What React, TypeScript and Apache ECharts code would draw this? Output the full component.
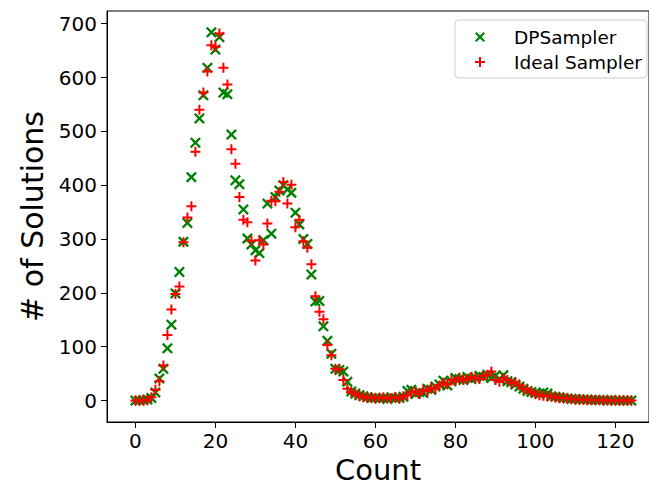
import React, { useEffect, useRef } from "react";
import * as echarts from "echarts";

const counts: number[] = Array.from({ length: 125 }, (_, i) => i);

const dpSampler: number[] = [
  0, 0, 1, 2, 5, 15, 41, 59, 97, 141,
  199, 239, 295, 330, 415, 479, 524, 567, 618, 684,
  652, 675, 572, 569, 494, 409, 402, 355, 301, 290,
  279, 274, 298, 366, 310, 378, 390, 400, 392, 386,
  349, 327, 300, 291, 234, 184, 185, 138, 111, 87,
  59, 57, 54, 35, 17, 13, 10, 8, 6, 5,
  5, 4, 5, 3, 6, 4, 5, 7, 18, 20,
  12, 16, 14, 22, 20, 26, 30, 37, 28, 36,
  42, 40, 38, 44, 40, 42, 46, 44, 48, 42,
  46, 40, 47, 36, 34, 30, 26, 22, 18, 16,
  14, 12, 15, 13, 8, 7, 6, 5, 4, 3,
  3, 2, 2, 2, 1, 1, 1, 1, 0, 1,
  0, 0, 0, 0, 0,
];

const idealSampler: number[] = [
  0, 0, 0, 1, 6, 20, 36, 65, 122, 169,
  198, 212, 294, 340, 361, 462, 540, 572, 611, 660,
  657, 682, 618, 587, 467, 440, 378, 336, 331, 297,
  260, 298, 290, 329, 371, 370, 388, 406, 366, 401,
  322, 336, 296, 284, 253, 194, 165, 151, 103, 84,
  59, 58, 38, 22, 16, 12, 9, 7, 5, 6,
  4, 5, 6, 4, 5, 6, 4, 8, 10, 15,
  17, 12, 20, 18, 24, 22, 28, 33, 30, 38,
  36, 42, 38, 40, 44, 42, 40, 46, 48, 54,
  38, 35, 42, 38, 32, 34, 28, 22, 20, 16,
  12, 10, 9, 8, 8, 6, 5, 5, 4, 3,
  2, 2, 2, 1, 1, 1, 1, 0, 0, 0,
  0, 0, 0, 0, 0,
];

const xTicks: number[] = [0, 20, 40, 60, 80, 100, 120];
const yTicks: number[] = [0, 100, 200, 300, 400, 500, 600, 700];

const seriesNames = ["DPSampler", "Ideal Sampler"];

const X_PATH =
  "path://M0,1.5L1.5,0L5,3.5L8.5,0L10,1.5L6.5,5L10,8.5L8.5,10L5,6.5L1.5,10L0,8.5L3.5,5Z";
const PLUS_PATH =
  "path://M4,0L6,0L6,4L10,4L10,6L6,6L6,10L4,10L4,6L0,6L0,4L4,4Z";

const FONT = "DejaVu Sans";
const W = 649;
const H = 487;

export default function App() {
  const ref = useRef<HTMLDivElement>(null);

  useEffect(() => {
    if (!ref.current) return;
    const chart = echarts.init(ref.current, undefined, {
      renderer: "svg",
      width: W,
      height: H,
    });
    const toPairs = (vals: number[]) => counts.map((c, i) => [c, vals[i]]);
    const xMin = -7.1;
    const xMax = xMin + (W - 107) / 4;
    chart.setOption({
      animation: false,
      backgroundColor: "#ffffff",
      grid: {
        left: 107,
        top: 11,
        right: 0,
        bottom: 65,
        outerBoundsMode: "none",
        containLabel: false,
        show: true,
        borderColor: "#000000",
        borderWidth: 1,
        backgroundColor: "transparent",
      },
      legend: {
        orient: "vertical",
        left: 455,
        top: 20,
        padding: [7, 5, 6, 20],
        itemWidth: 10,
        itemHeight: 10,
        itemGap: 5,
        borderColor: "#cccccc",
        borderWidth: 1,
        borderRadius: 4,
        backgroundColor: "rgba(255,255,255,0.8)",
        textStyle: {
          fontFamily: FONT,
          fontSize: 18.5,
          color: "#000000",
          lineHeight: 20,
          padding: [0, 0, 0, 24],
        },
        data: [
          { name: seriesNames[0], icon: X_PATH, itemStyle: { color: "#008000", opacity: 1 } },
          { name: seriesNames[1], icon: PLUS_PATH, itemStyle: { color: "#ff0000", opacity: 1 } },
        ],
      },
      xAxis: {
        type: "value",
        min: xMin,
        max: xMax,
        name: "Count",
        nameLocation: "middle",
        nameGap: 37,
        nameTextStyle: { fontFamily: FONT, fontSize: 29, lineHeight: 22, color: "#000000" },
        axisLine: { show: true, onZero: false, lineStyle: { color: "#000000", width: 1 } },
        axisTick: {
          show: true,
          length: 6,
          inside: false,
          customValues: xTicks,
          lineStyle: { color: "#000000", width: 1 },
        },
        axisLabel: {
          margin: 9,
          fontFamily: FONT,
          fontSize: 20,
          color: "#000000",
          customValues: xTicks,
        },
        splitLine: { show: false },
      },
      yAxis: {
        type: "value",
        min: -39.8,
        max: 723.6,
        name: "# of Solutions",
        nameLocation: "middle",
        nameGap: 56,
        nameTextStyle: { fontFamily: FONT, fontSize: 30, color: "#000000" },
        axisLine: { show: true, onZero: false, lineStyle: { color: "#000000", width: 1 } },
        axisTick: {
          show: true,
          length: 6,
          inside: false,
          customValues: yTicks,
          lineStyle: { color: "#000000", width: 1 },
        },
        axisLabel: {
          margin: 10,
          fontFamily: FONT,
          fontSize: 20,
          color: "#000000",
          customValues: yTicks,
        },
        splitLine: { show: false },
      },
      series: [
        {
          name: seriesNames[0],
          type: "scatter",
          symbol: X_PATH,
          symbolSize: 11,
          itemStyle: { color: "#008000", opacity: 1 },
          data: toPairs(dpSampler),
        },
        {
          name: seriesNames[1],
          type: "scatter",
          symbol: PLUS_PATH,
          symbolSize: 10,
          itemStyle: { color: "#ff0000", opacity: 1 },
          data: toPairs(idealSampler),
        },
      ],
    });
    return () => chart.dispose();
  }, []);

  return (
    <div
      ref={ref}
      style={{ position: "absolute", left: 0, top: 0, width: W, height: H }}
    />
  );
}
